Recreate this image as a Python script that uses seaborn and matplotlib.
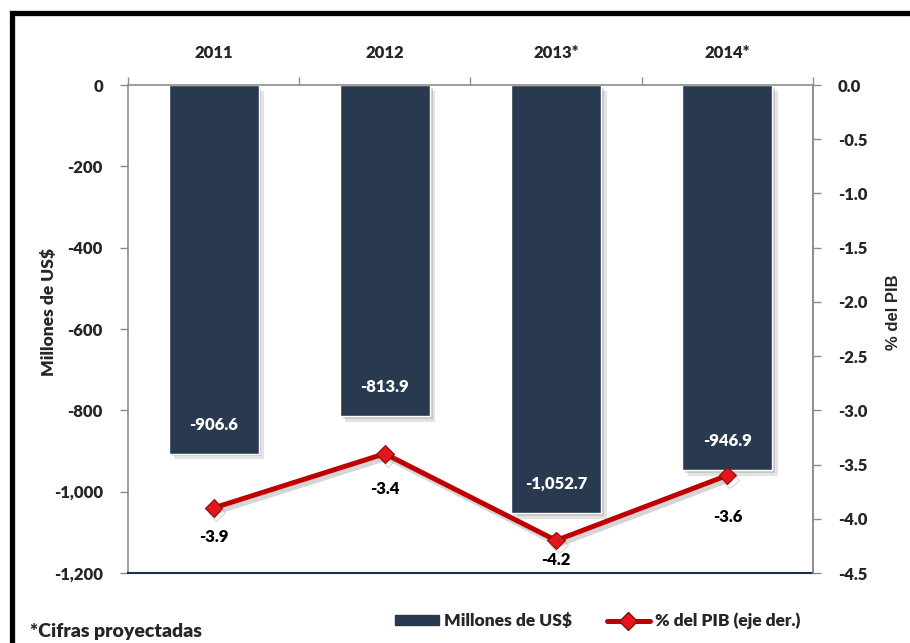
import numpy as np
import pandas as pd
import matplotlib
matplotlib.use("Agg")
import matplotlib.pyplot as plt
import matplotlib.patheffects as pe
from matplotlib.patches import Rectangle, Patch
from matplotlib.lines import Line2D
from matplotlib.ticker import FuncFormatter
import seaborn as sns

# ---- data ----
years = ["2011", "2012", "2013*", "2014*"]
millones = [-906.6, -813.9, -1052.7, -946.9]
pib = [-3.9, -3.4, -4.2, -3.6]
left_ticks = [-1200, -1000, -800, -600, -400, -200, 0]
right_ticks = [-4.5, -4.0, -3.5, -3.0, -2.5, -2.0, -1.5, -1.0, -0.5, 0.0]
series_names = ["Millones de US$", "% del PIB (eje der.)"]

# ---- style ----
sns.set_theme(style="white")
plt.rcParams["font.family"] = ["Lato", "DejaVu Sans"]
W = "heavy"
plt.rcParams["font.weight"] = W
BAR = "#29394F"
RED = "#C00000"
GREY = "#8C8C8C"
FS = 12

df = pd.DataFrame({"Año": years, "Millones": millones, "PIB": pib})

fig = plt.figure(figsize=(9.1, 6.43), dpi=100)
ax = fig.add_axes([128 / 910, 70 / 643, 685 / 910, 488 / 643])

sns.barplot(data=df, x="Año", y="Millones", color=BAR, saturation=1,
            width=0.525, ax=ax)
for p in ax.patches:
    p.set_path_effects([pe.SimplePatchShadow(offset=(4, -4), shadow_rgbFace="#b0b0b0", alpha=0.35),
                        pe.SimplePatchShadow(offset=(2, -2), shadow_rgbFace="#909090", alpha=0.35),
                        pe.Normal()])

ax.set_ylim(-1200, 0)
ax.set_yticks(left_ticks)
ax.yaxis.set_major_formatter(FuncFormatter(lambda v, _: f"{v:,.0f}"))
ax.xaxis.tick_top()
ax.xaxis.set_label_position("top")
ax.set_xlabel("")
ax.set_ylabel("Millones de US$", fontsize=FS + 0.5, fontweight=W)
ax.yaxis.set_label_coords(-0.104, 0.535)
ax.set_xticks([-0.5, 0.5, 1.5, 2.5, 3.5], minor=True)
ax.tick_params(axis="x", which="major", length=0, pad=17, labelsize=FS)
ax.tick_params(axis="x", which="minor", length=6, width=1, color=GREY, direction="out", top=True, bottom=False)
ax.tick_params(axis="y", which="major", length=6, width=1, color=GREY, direction="out", pad=12, labelsize=FS, left=True)
for lab in ax.get_xticklabels() + ax.get_yticklabels():
    lab.set_fontweight(W)
for s in ["top", "left", "right"]:
    ax.spines[s].set_color(GREY)
    ax.spines[s].set_linewidth(1.2)
ax.spines["bottom"].set_color("#1F2E48")
ax.spines["bottom"].set_linewidth(1.5)

for i, v in enumerate(millones):
    ax.annotate(f"{v:,.1f}", xy=(i, v), xytext=(0, 29), textcoords="offset pixels",
                ha="center", va="center", color="white", fontsize=FS, fontweight=W)

# secondary axis
ax2 = ax.twinx()
sns.lineplot(x=np.arange(len(years)), y=pib, ax=ax2, color=RED, linewidth=3.6,
             marker="D", markersize=9, markerfacecolor="#E3161E",
             markeredgecolor="#8E0A0A", markeredgewidth=0.8)
for ln in ax2.lines:
    ln.set_path_effects([pe.SimpleLineShadow(offset=(2, -3), shadow_color="#777777", alpha=0.3),
                         pe.Normal()])
ax2.set_xlim(-0.5, 3.5)
ax2.set_ylim(-4.5, 0)
ax2.set_yticks(right_ticks)
ax2.yaxis.set_major_formatter(FuncFormatter(lambda v, _: f"{v + 0.0:.1f}"))
ax2.tick_params(axis="y", length=6, width=1, color=GREY, direction="out", pad=12, labelsize=FS, right=True)
for lab in ax2.get_yticklabels():
    lab.set_fontweight(W)
for s in ["top", "left", "bottom"]:
    ax2.spines[s].set_visible(False)
ax2.spines["right"].set_color(GREY)
ax2.spines["right"].set_linewidth(1.2)
ax2.set_ylabel("% del PIB", fontsize=FS, fontweight="bold",
               family=["Liberation Sans", "DejaVu Sans"], rotation=90)
ax2.yaxis.set_label_coords(1.107, 0.535)

pib_offsets = [-29, -35, -20, -42]
for i, (v, off) in enumerate(zip(pib, pib_offsets)):
    ax2.annotate(f"{v:.1f}", xy=(i, v), xytext=(0, off), textcoords="offset pixels",
                 ha="center", va="center", color="black", fontsize=FS, fontweight=W)

# legend
handles = [Patch(facecolor=BAR, edgecolor=BAR),
           Line2D([0], [0], color=RED, lw=3.6, marker="D", markersize=9,
                  markerfacecolor="#E3161E", markeredgecolor="#8E0A0A")]
fig.legend(handles, series_names, loc="center", bbox_to_anchor=(598 / 910, 1 - 621 / 643),
           ncol=2, frameon=False, prop={"size": FS + 0.5, "weight": W},
           handlelength=2.5, handleheight=0.5, handletextpad=0.3, columnspacing=2.0)

fig.text(30 / 910, 1 - 631 / 643, "*Cifras proyectadas", fontsize=14, fontweight=W,
         ha="left", va="center")

# outer frame
fig.patches.append(Rectangle((11.5 / 910, -0.1), 1.2, 1.1 - 13.5 / 643,
                             transform=fig.transFigure, fill=False, lw=3.8, ec="black"))

fig.savefig("out.png", dpi=100)
